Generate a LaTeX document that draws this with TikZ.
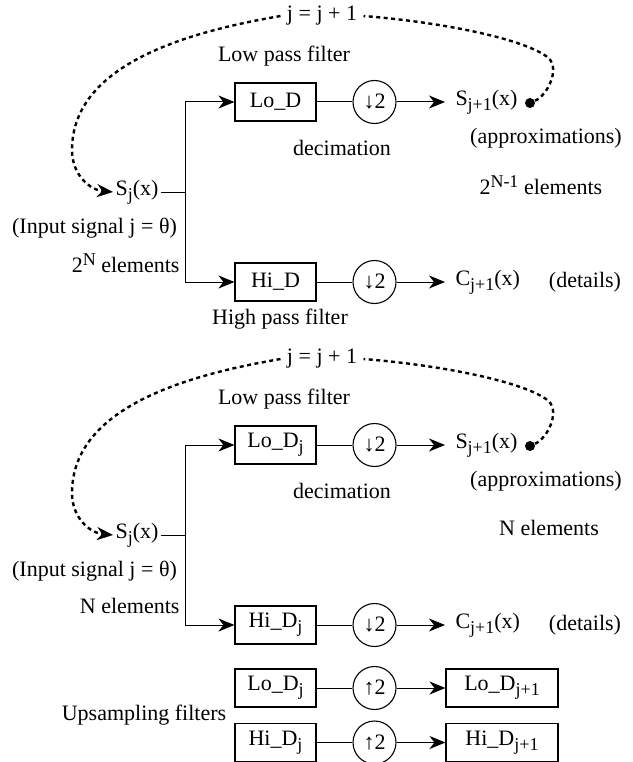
\documentclass[tikz,border=0pt]{standalone}
\usepackage{fontspec}
\setmainfont{Liberation Serif}
\usetikzlibrary{arrows.meta}
\newcommand{\lowix}[1]{\raisebox{-5pt}{\fontsize{18}{20}\selectfont #1}}
\newcommand{\highix}[1]{\raisebox{7pt}{\fontsize{18}{20}\selectfont #1}}

\begin{document}
\begin{tikzpicture}[x=1pt, y=-1pt, >={Stealth[length=16pt,width=13pt,inset=5pt]},
  font=\fontsize{22}{26}\selectfont, line width=1pt,
  filt/.style={rectangle, draw, line width=1.1pt, minimum width=81pt,
    minimum height=38pt, inner sep=0pt},
  samp/.style={circle, draw, line width=1.1pt, minimum size=43pt, inner sep=0pt},
  txt/.style={inner sep=2pt},
  iter/.style={line width=2.4pt, dash pattern=on 4pt off 3.5pt},
  tip/.style={circle, fill, minimum size=10pt, inner sep=0pt}]
\useasboundingbox (0,0) rectangle (632,762);

% first level, 2^N samples
\node[txt, inner xsep=6pt] (it1) at (322,16) {j = j + 1};
\node[txt] at (284,56) {Low pass filter};
\node[filt] (lo1) at (275.5,102) {Lo\_D};
\node[samp] (dl1) at (374.5,102) {↓2};
\node[txt, anchor=west] (sa1) at (453,102) {S\lowix{j+1}(x)};
\node[tip] (dt1) at (530,103) {};
\node[txt] at (342,148) {decimation};
\node[txt] at (546,138) {(approximations)};
\node[txt, anchor=west] at (477,185) {2\highix{N-1} elements};
\node[txt] (sj1) at (137,192) {S\lowix{j}(x)};
\node[txt] at (94.5,228) {(Input signal j = θ)};
\node[txt, anchor=east] at (182,263) {2\highix{N} elements};
\node[filt] (hi1) at (275.5,282) {Hi\_D};
\node[samp] (dh1) at (374.5,282) {↓2};
\node[txt, anchor=west] (cd1) at (453,282) {C\lowix{j+1}(x)};
\node[txt] at (585,282) {(details)};
\node[txt] at (280,319) {High pass filter};
\coordinate (fk1) at (185,192);

\draw (sj1.east) -- (fk1);
\draw[->] (fk1) |- (lo1.west);
\draw[->] (fk1) |- (hi1.west);
\draw (lo1) -- (dl1);
\draw (hi1) -- (dh1);
\draw[->, shorten >=8pt] (dl1) -- (sa1.west);
\draw[->, shorten >=8pt] (dh1) -- (cd1.west);
\draw[iter] (dt1) .. controls (548,95) and (562,66) .. (546,56)
  .. controls (520,38) and (440,22) .. (it1.east);
\draw[iter, ->] (it1.west) .. controls (200,30) and (72,60) .. (72,150)
  .. controls (72,175) and (90,190) .. (sj1.west);

% second level, N samples
\begin{scope}[shift={(0,343)}]
\node[txt, inner xsep=6pt] (it2) at (322,16) {j = j + 1};
\node[txt] at (284,56) {Low pass filter};
\node[filt] (lo2) at (275.5,102) {Lo\_D\lowix{j}};
\node[samp] (dl2) at (374.5,102) {↓2};
\node[txt, anchor=west] (sa2) at (453,102) {S\lowix{j+1}(x)};
\node[tip] (dt2) at (530,103) {};
\node[txt] at (342,148) {decimation};
\node[txt] at (546,138) {(approximations)};
\node[txt] at (549,185) {N elements};
\node[txt] (sj2) at (137,192) {S\lowix{j}(x)};
\node[txt] at (94.5,228) {(Input signal j = θ)};
\node[txt, anchor=east] at (182,263) {N elements};
\node[filt] (hi2) at (275.5,282) {Hi\_D\lowix{j}};
\node[samp] (dh2) at (374.5,282) {↓2};
\node[txt, anchor=west] (cd2) at (453,282) {C\lowix{j+1}(x)};
\node[txt] at (585,282) {(details)};
\coordinate (fk2) at (185,192);

\draw (sj2.east) -- (fk2);
\draw[->] (fk2) |- (lo2.west);
\draw[->] (fk2) |- (hi2.west);
\draw (lo2) -- (dl2);
\draw (hi2) -- (dh2);
\draw[->, shorten >=8pt] (dl2) -- (sa2.west);
\draw[->, shorten >=8pt] (dh2) -- (cd2.west);
\draw[iter] (dt2) .. controls (548,95) and (562,66) .. (546,56)
  .. controls (520,38) and (440,22) .. (it2.east);
\draw[iter, ->] (it2.west) .. controls (200,30) and (72,60) .. (72,150)
  .. controls (72,175) and (90,190) .. (sj2.west);
\end{scope}

% upsampling
\node[txt] at (144,715) {Upsampling filters};
\node[filt] (lf) at (275.5,688) {Lo\_D\lowix{j}};
\node[samp] (ul) at (374.5,688) {↑2};
\node[filt, minimum width=112pt] (lf1) at (502,688) {Lo\_D\lowix{j+1}};
\node[filt] (hf) at (275.5,742.5) {Hi\_D\lowix{j}};
\node[samp] (uh) at (374.5,742.5) {↑2};
\node[filt, minimum width=112pt] (hf1) at (502,742.5) {Hi\_D\lowix{j+1}};
\draw (lf) -- (ul);
\draw (hf) -- (uh);
\draw[->] (ul) -- (lf1);
\draw[->] (uh) -- (hf1);
\end{tikzpicture}
\end{document}
